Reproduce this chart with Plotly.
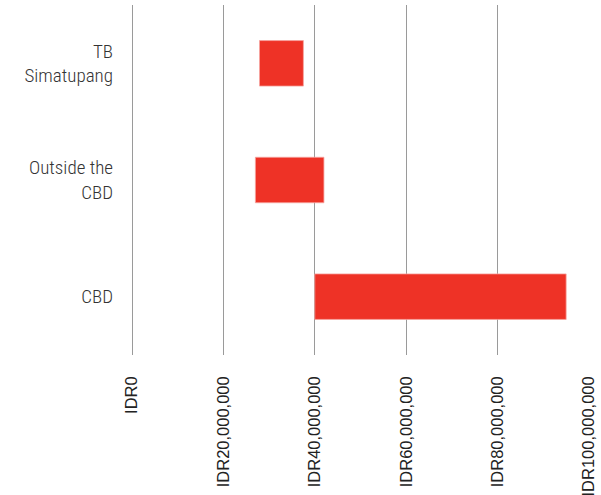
import plotly.graph_objects as go

categories = ["CBD", "Outside the<br>CBD", "TB<br>Simatupang"]
range_low = [40_000_000, 27_000_000, 27_900_000]
range_high = [95_000_000, 42_000_000, 37_500_000]
tick_vals = [0, 20_000_000, 40_000_000, 60_000_000, 80_000_000, 100_000_000]
tick_text = ["IDR0", "IDR20,000,000", "IDR40,000,000", "IDR60,000,000", "IDR80,000,000", "IDR100,000,000"]

widths = [h - l for l, h in zip(range_low, range_high)]

fig = go.Figure(go.Bar(
    y=categories, x=widths, base=range_low, orientation="h",
    marker=dict(color="#EE3226", line=dict(color="#F6A5A0", width=0.8)),
    width=0.39,
))

fig.update_layout(
    width=601, height=495,
    margin=dict(l=132, r=12, t=5, b=140, autoexpand=False),
    paper_bgcolor="white", plot_bgcolor="white",
    showlegend=False,
    xaxis=dict(
        range=[0, 100_000_000], tickvals=tick_vals, ticktext=tick_text,
        tickangle=-90, showgrid=True, gridcolor="#9a9a9a", gridwidth=1,
        zeroline=True, zerolinecolor="#9a9a9a", zerolinewidth=1,
        showline=False, ticks="", ticklabelstandoff=17, automargin=False,
        tickfont=dict(family="Arial, Liberation Sans, sans-serif", size=16.5, color="#222222"),
    ),
    yaxis=dict(
        range=[-0.5, 2.5], showgrid=False, zeroline=False, showline=False,
        ticks="", ticklabelstandoff=18, automargin=False,
        tickfont=dict(family="Roboto Condensed, Roboto, sans-serif", size=19, color="#333333", weight=300),
    ),
)

fig.write_html("out.html")
